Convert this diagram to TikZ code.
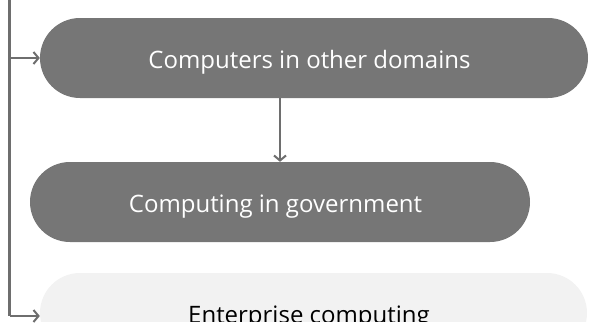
\documentclass[tikz,border=0pt]{standalone}
\usepackage{fontspec}
\setmainfont{Open Sans}
\usetikzlibrary{arrows.meta}
\definecolor{pillgray}{HTML}{767676}
\definecolor{linkgray}{HTML}{6E6E6E}
\definecolor{pilllight}{HTML}{F2F2F2}
\begin{document}
\begin{tikzpicture}[x=1pt,y=1pt,
  pill/.style={rectangle, rounded corners=40pt, minimum height=80pt,
    inner sep=0pt, font=\fontsize{24}{28}\selectfont,
    text height=20pt, text depth=0pt,
    execute at begin node=\kern-9pt},
  darkpill/.style={pill, fill=pillgray, text=white},
  lightpill/.style={pill, fill=pilllight, text=black},
  link/.style={draw=linkgray, line width=2.7pt,
    -{Straight Barb[length=5pt,width=12pt,line width=2pt]}}]
\useasboundingbox (0,0) rectangle (590,325);
\node[darkpill, minimum width=548pt] (dom) at (314,267) {Computers in other domains};
\node[darkpill, minimum width=500pt] (gov) at (280,123) {Computing in government};
\begin{scope}
  \clip (0,4) rectangle (590,325);
  \node[lightpill, minimum width=547pt] (ent) at (313.5,12) {Enterprise computing};
\end{scope}
\coordinate (top) at (9.5,325);
\coordinate (corner) at (9.5,9);
\draw[link] (gov.north |- dom.south) -- (gov.north);
\draw[draw=linkgray, line width=2.7pt] (top) -- (corner);
\draw[link] (top |- dom.west) -- (dom.west);
\draw[link] (corner) -- (corner -| ent.west);
\end{tikzpicture}
\end{document}
